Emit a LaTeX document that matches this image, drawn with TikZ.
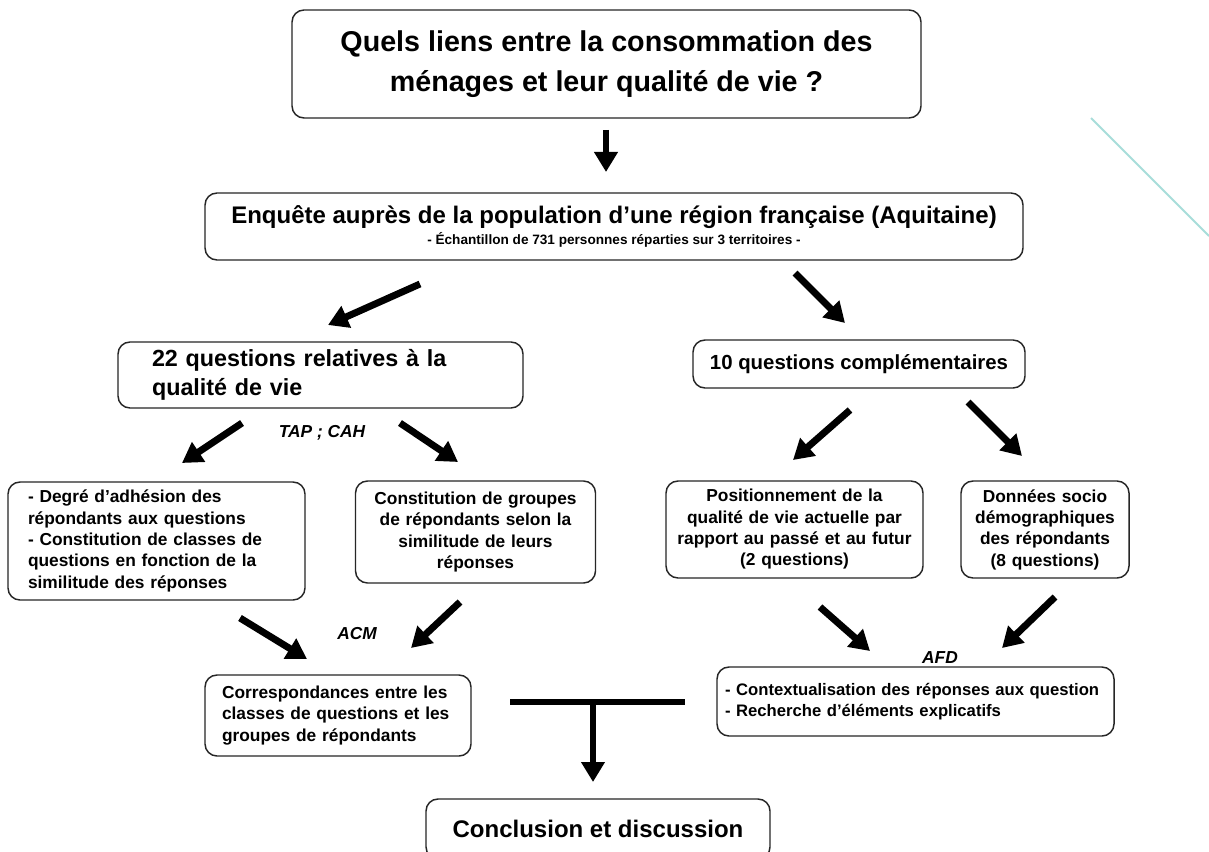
\documentclass[tikz,border=0pt]{standalone}
\usepackage{fontspec}
\setmainfont{Liberation Sans}
\usetikzlibrary{arrows.meta}
\definecolor{tealline}{RGB}{168,221,218}
\tikzset{
  box/.style={draw=black!85, line width=1.1pt, rounded corners=9pt, inner ysep=0pt, font=\bfseries},
  small/.style={font=\bfseries\fontsize{13}{16}\selectfont},
  bigarrow/.style={line width=5.2pt, -{Triangle[length=15pt,width=17pt]}},
  lab/.style={font=\bfseries\itshape\fontsize{13}{15}\selectfont, inner sep=0pt}
}
\begin{document}
\begin{tikzpicture}[x=0.75pt,y=-0.75pt]
\clip (0,0) rectangle (1209,852);
\fill[white] (0,0) rectangle (1209,852);

% decorative teal line
\draw[tealline, line width=1.5pt] (1091,118) -- (1209,236);

% boxes
\node[box, minimum width=471.75pt, minimum height=81pt, align=center,
  font=\bfseries\fontsize{21.5}{30}\selectfont] (title) at (606.5,64)
  {Quels liens entre la consommation des\\ménages et leur qualité de vie ?};

\node[box, minimum width=613.5pt, minimum height=50.25pt, align=center] (enq) at (614,226.5)
  {{\fontsize{18}{21}\selectfont Enquête auprès de la population d’une région française (Aquitaine)}\\[2pt]
   {\fontsize{10.2}{12}\selectfont - Échantillon de 731 personnes réparties sur 3 territoires -}};

\node[box, text width=252.75pt, inner xsep=25.5pt, minimum height=49.5pt, align=left,
  font=\bfseries\fontsize{17.5}{21.5}\selectfont] (q22) at (320.5,375)
  {22 questions relatives à la\\qualité de vie};

\node[box, minimum width=249pt, minimum height=36pt, align=center,
  font=\bfseries\fontsize{15.3}{18}\selectfont] (q10) at (859,364)
  {10 questions complémentaires};

\node[box, small, text width=192.75pt, inner xsep=15pt, minimum height=88.5pt, align=left] (deg) at (156.5,541)
  {- Degré d’adhésion des\\répondants aux questions\\- Constitution de classes de\\questions en fonction de la\\similitude des réponses};

\node[box, small, text width=172pt, inner xsep=4pt, minimum height=76.5pt, align=center] (grp) at (475.5,532)
  {Constitution de groupes\\de répondants selon la\\similitude de leurs\\réponses};

\node[box, small, text width=184.75pt, inner xsep=4pt, minimum height=72.75pt, align=center] (pos) at (794.5,529.5)
  {Positionnement de la\\qualité de vie actuelle par\\rapport au passé et au futur\\(2 questions)};

\node[box, small, text width=118pt, inner xsep=4pt, minimum height=72.75pt, align=center] (soc) at (1045,529.5)
  {Données socio\\démographiques\\des répondants\\(8 questions)};

\node[box, small, text width=174pt, inner xsep=12.75pt, minimum height=60.75pt, align=left] (corr) at (338,715.5)
  {Correspondances entre les\\classes de questions et les\\groupes de répondants};

\node[box, font=\bfseries\fontsize{12.5}{16}\selectfont, text width=285.75pt, inner xsep=6pt,
  minimum height=51.75pt, align=left] (ctx) at (915.5,701.5)
  {\mbox{- Contextualisation des réponses aux question}\\\mbox{- Recherche d’éléments explicatifs}};

\node[box, minimum width=258pt, minimum height=45pt, align=center,
  font=\bfseries\fontsize{18}{21}\selectfont] (concl) at (598,829)
  {Conclusion et discussion};

% labels
\node[lab] (tap) at (322,433) {TAP ; CAH};
\node[lab] (acm) at (357,634) {ACM};
\node[lab] (afd) at (940,658) {AFD};

% arrow end points
\coordinate (a1s) at (606,130);  \coordinate (a1e) at (606,172);
\coordinate (a2s) at (420,284);  \coordinate (a2e) at (328,325);
\coordinate (a3s) at (795,273);  \coordinate (a3e) at (845,323);
\coordinate (a4s) at (242,423);  \coordinate (a4e) at (182,463);
\coordinate (a5s) at (400,423);  \coordinate (a5e) at (458,462);
\coordinate (a6s) at (850,410);  \coordinate (a6e) at (793,460);
\coordinate (a7s) at (968,402);  \coordinate (a7e) at (1022,456);
\coordinate (a8s) at (240,618);  \coordinate (a8e) at (307,659);
\coordinate (a9s) at (460,602);  \coordinate (a9e) at (411,648);
\coordinate (a10s) at (820,607); \coordinate (a10e) at (870,651);
\coordinate (a11s) at (1055,597);\coordinate (a11e) at (1002,648);
\coordinate (tl) at (510,702); \coordinate (tr) at (685,702);
\coordinate (tm) at (593,702); \coordinate (te) at (593,782);

\draw[bigarrow] (a1s) -- (a1e);
\draw[bigarrow] (a2s) -- (a2e);
\draw[bigarrow] (a3s) -- (a3e);
\draw[bigarrow] (a4s) -- (a4e);
\draw[bigarrow] (a5s) -- (a5e);
\draw[bigarrow] (a6s) -- (a6e);
\draw[bigarrow] (a7s) -- (a7e);
\draw[bigarrow] (a8s) -- (a8e);
\draw[bigarrow] (a9s) -- (a9e);
\draw[bigarrow] (a10s) -- (a10e);
\draw[bigarrow] (a11s) -- (a11e);
\draw[line width=5.2pt] (tl) -- (tr);
\draw[bigarrow] (tm) -- (te);
\end{tikzpicture}
\end{document}
